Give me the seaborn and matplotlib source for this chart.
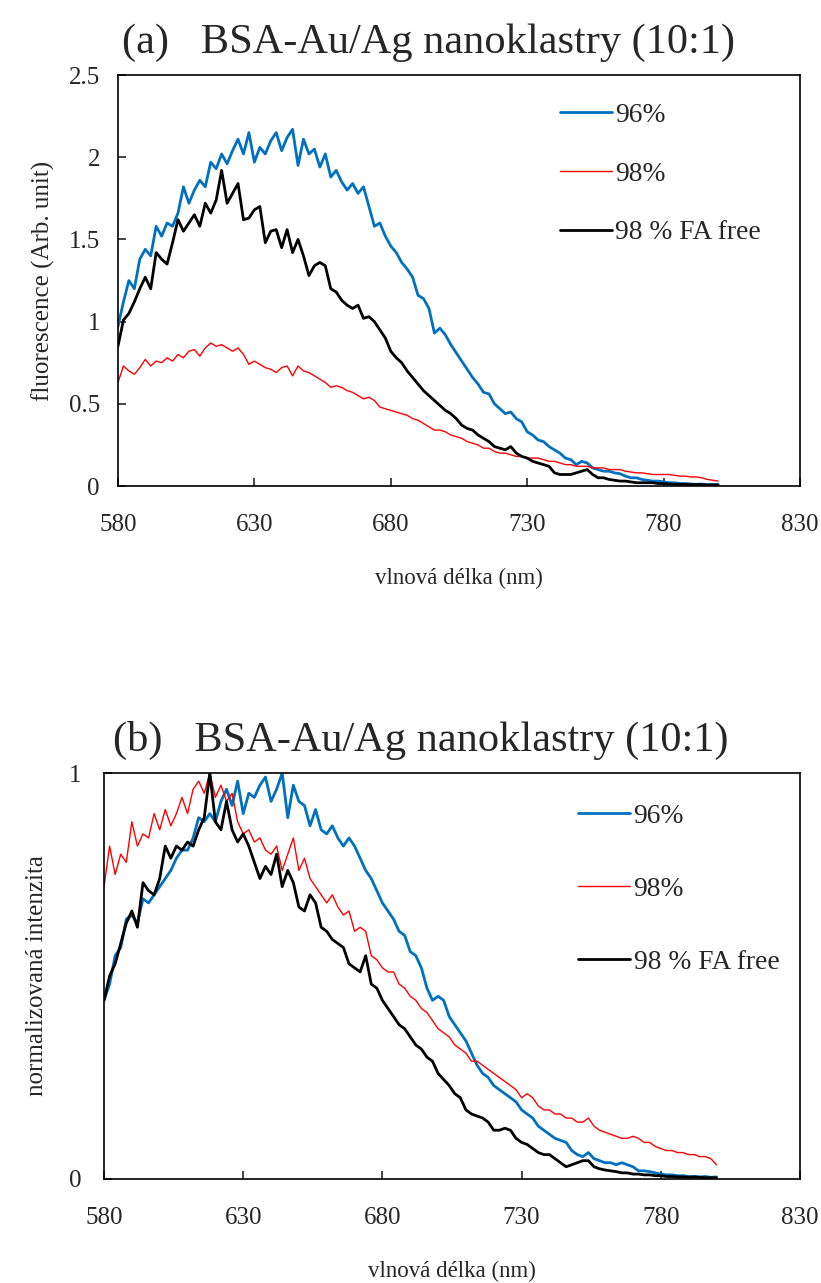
import numpy as np
import pandas as pd
import matplotlib
matplotlib.use("Agg")
import matplotlib.pyplot as plt
from matplotlib.ticker import FuncFormatter
import seaborn as sns

# wavelength grid (nm), 2 nm step
wavelength = np.arange(580, 801, 2)

# (a) raw fluorescence, Arb. unit
fl_96 = [0.97, 1.12, 1.25, 1.20, 1.38, 1.44, 1.40, 1.58, 1.52, 1.60,
         1.58, 1.66, 1.82, 1.72, 1.80, 1.86, 1.82, 1.97, 1.93, 2.02,
         1.96, 2.04, 2.11, 2.02, 2.15, 1.97, 2.06, 2.02, 2.10, 2.15,
         2.04, 2.12, 2.17, 1.95, 2.11, 2.02, 2.05, 1.94, 2.02, 1.88,
         1.92, 1.85, 1.80, 1.84, 1.78, 1.82, 1.70, 1.58, 1.60, 1.52,
         1.46, 1.42, 1.36, 1.32, 1.27, 1.16, 1.14, 1.08, 0.93, 0.96,
         0.92, 0.86, 0.81, 0.76, 0.71, 0.66, 0.62, 0.57, 0.56, 0.50,
         0.47, 0.44, 0.45, 0.41, 0.39, 0.33, 0.31, 0.28, 0.27, 0.24,
         0.22, 0.20, 0.17, 0.16, 0.13, 0.15, 0.14, 0.11, 0.10, 0.09,
         0.09, 0.08, 0.075, 0.06, 0.05, 0.05, 0.04, 0.035, 0.03, 0.03,
         0.025, 0.02, 0.02, 0.015, 0.015, 0.012, 0.01, 0.012, 0.008, 0.01,
         0.01]
fl_98 = [0.63, 0.73, 0.70, 0.68, 0.72, 0.77, 0.73, 0.76, 0.75, 0.78,
         0.76, 0.80, 0.78, 0.82, 0.83, 0.79, 0.84, 0.87, 0.85, 0.86,
         0.84, 0.82, 0.84, 0.80, 0.74, 0.76, 0.74, 0.72, 0.71, 0.69,
         0.72, 0.73, 0.67, 0.73, 0.70, 0.69, 0.67, 0.65, 0.63, 0.60,
         0.61, 0.60, 0.58, 0.57, 0.55, 0.53, 0.54, 0.52, 0.48, 0.47,
         0.46, 0.45, 0.44, 0.43, 0.41, 0.40, 0.38, 0.36, 0.34, 0.34,
         0.33, 0.31, 0.30, 0.29, 0.27, 0.26, 0.25, 0.23, 0.23, 0.21,
         0.20, 0.20, 0.19, 0.18, 0.18, 0.17, 0.17, 0.17, 0.16, 0.15,
         0.15, 0.14, 0.13, 0.13, 0.12, 0.12, 0.12, 0.11, 0.11, 0.11,
         0.10, 0.10, 0.10, 0.09, 0.085, 0.08, 0.08, 0.075, 0.07, 0.07,
         0.07, 0.07, 0.065, 0.06, 0.06, 0.055, 0.055, 0.05, 0.04, 0.035,
         0.03]
fl_98_fa = [0.85, 1.01, 1.05, 1.12, 1.20, 1.27, 1.20, 1.42, 1.38, 1.35,
            1.48, 1.62, 1.55, 1.60, 1.65, 1.58, 1.72, 1.66, 1.74, 1.92,
            1.72, 1.78, 1.84, 1.62, 1.63, 1.68, 1.70, 1.48, 1.55, 1.56,
            1.45, 1.56, 1.42, 1.50, 1.40, 1.28, 1.34, 1.36, 1.34, 1.20,
            1.18, 1.13, 1.10, 1.08, 1.10, 1.02, 1.03, 1.00, 0.95, 0.90,
            0.82, 0.78, 0.75, 0.70, 0.66, 0.62, 0.58, 0.55, 0.52, 0.49,
            0.46, 0.44, 0.41, 0.37, 0.35, 0.34, 0.31, 0.29, 0.27, 0.24,
            0.23, 0.22, 0.24, 0.20, 0.18, 0.17, 0.15, 0.14, 0.13, 0.12,
            0.08, 0.07, 0.07, 0.07, 0.08, 0.09, 0.10, 0.07, 0.05, 0.05,
            0.04, 0.035, 0.03, 0.03, 0.025, 0.02, 0.02, 0.02, 0.02, 0.015,
            0.015, 0.012, 0.01, 0.01, 0.01, 0.008, 0.01, 0.008, 0.006, 0.006,
            0.005]

# (b) normalised intensity
norm_96 = [0.44, 0.48, 0.55, 0.57, 0.64, 0.65, 0.63, 0.69, 0.68, 0.70,
           0.72, 0.74, 0.76, 0.79, 0.81, 0.81, 0.84, 0.89, 0.88, 0.90,
           0.88, 0.93, 0.96, 0.92, 0.98, 0.90, 0.95, 0.94, 0.97, 0.99,
           0.93, 0.96, 1.00, 0.89, 0.97, 0.93, 0.92, 0.87, 0.91, 0.86,
           0.85, 0.87, 0.84, 0.82, 0.84, 0.82, 0.79, 0.76, 0.74, 0.71,
           0.68, 0.66, 0.64, 0.61, 0.60, 0.56, 0.55, 0.52, 0.47, 0.44,
           0.45, 0.44, 0.40, 0.38, 0.36, 0.34, 0.31, 0.28, 0.26, 0.25,
           0.23, 0.22, 0.21, 0.20, 0.19, 0.17, 0.16, 0.15, 0.13, 0.12,
           0.11, 0.10, 0.095, 0.09, 0.07, 0.06, 0.055, 0.065, 0.05, 0.045,
           0.04, 0.04, 0.035, 0.04, 0.035, 0.03, 0.02, 0.02, 0.018, 0.015,
           0.012, 0.01, 0.01, 0.008, 0.008, 0.006, 0.006, 0.005, 0.006, 0.004,
           0.005]
norm_98 = [0.72, 0.82, 0.75, 0.80, 0.78, 0.88, 0.82, 0.85, 0.84, 0.90,
           0.86, 0.91, 0.87, 0.90, 0.94, 0.90, 0.96, 0.98, 0.95, 1.00,
           0.94, 0.97, 0.93, 0.95, 0.88, 0.85, 0.86, 0.83, 0.84, 0.81,
           0.80, 0.82, 0.76, 0.80, 0.84, 0.76, 0.79, 0.74, 0.72, 0.70,
           0.68, 0.70, 0.67, 0.65, 0.66, 0.61, 0.62, 0.61, 0.55, 0.54,
           0.52, 0.51, 0.51, 0.48, 0.47, 0.45, 0.44, 0.42, 0.41, 0.39,
           0.37, 0.36, 0.35, 0.33, 0.32, 0.31, 0.29, 0.29, 0.28, 0.27,
           0.26, 0.25, 0.24, 0.23, 0.22, 0.20, 0.21, 0.20, 0.18, 0.17,
           0.17, 0.16, 0.16, 0.15, 0.15, 0.14, 0.14, 0.15, 0.13, 0.12,
           0.115, 0.11, 0.105, 0.10, 0.10, 0.105, 0.10, 0.09, 0.09, 0.08,
           0.075, 0.07, 0.07, 0.065, 0.065, 0.06, 0.06, 0.055, 0.055, 0.05,
           0.035]
norm_98_fa = [0.44, 0.50, 0.53, 0.58, 0.63, 0.66, 0.62, 0.73, 0.71, 0.70,
              0.74, 0.82, 0.79, 0.82, 0.81, 0.83, 0.82, 0.86, 0.89, 1.00,
              0.88, 0.86, 0.93, 0.86, 0.83, 0.85, 0.82, 0.78, 0.74, 0.77,
              0.75, 0.80, 0.72, 0.76, 0.73, 0.67, 0.66, 0.70, 0.68, 0.62,
              0.61, 0.59, 0.58, 0.57, 0.53, 0.52, 0.51, 0.55, 0.48, 0.47,
              0.44, 0.42, 0.40, 0.38, 0.37, 0.35, 0.33, 0.32, 0.30, 0.29,
              0.26, 0.245, 0.23, 0.21, 0.20, 0.17, 0.16, 0.155, 0.15, 0.14,
              0.12, 0.12, 0.125, 0.12, 0.10, 0.09, 0.085, 0.075, 0.065, 0.06,
              0.06, 0.05, 0.04, 0.03, 0.035, 0.04, 0.045, 0.045, 0.03, 0.025,
              0.022, 0.02, 0.018, 0.015, 0.015, 0.012, 0.012, 0.01, 0.01, 0.008,
              0.008, 0.006, 0.006, 0.005, 0.005, 0.004, 0.005, 0.004, 0.003, 0.003,
              0.003]

labels = ["96%", "98%", "98 % FA free"]
colors = ["#0070C0", "#FF0000", "#000000"]
widths = [2.0, 1.0, 2.0]

sns.set_style("white")
plt.rcParams['font.family'] = ['Liberation Serif', 'DejaVu Serif']

fig = plt.figure(figsize=(8.21, 12.83), dpi=100)
ax_a = fig.add_axes([0.1437, 0.6212, 0.8307, 0.3203])
ax_b = fig.add_axes([0.1267, 0.0811, 0.8477, 0.3164])


def draw_panel(ax, series, title, ylabel, yticks, ylim, ypad, ylabpad, leg_anchor, leg_spacing):
    for vals, lab, col, lw in zip(series, labels, colors, widths):
        df = pd.DataFrame({"wl": wavelength, "val": vals})
        sns.lineplot(data=df, x="wl", y="val", ax=ax, color=col, lw=lw, label=lab)
    ax.set_xlim(580, 830)
    ax.set_ylim(*ylim)
    ax.set_xticks([580, 630, 680, 730, 780, 830])
    ax.set_yticks(yticks)
    ax.yaxis.set_major_formatter(FuncFormatter(lambda v, p: f"{v:g}"))
    ax.tick_params(axis='x', direction='in', length=6, width=1.2, labelsize=18, pad=20, bottom=True)
    ax.tick_params(axis='y', direction='in', length=6, width=1.2, labelsize=18, pad=ypad, left=True)
    for s in ax.spines.values():
        s.set_linewidth(1.2)
        s.set_color('black')
    ax.set_title(title, fontsize=30.5, x=0.455, pad=16)
    ax.set_xlabel("vlnová délka (nm)", fontsize=16.5, labelpad=23)
    ax.set_ylabel(ylabel, fontsize=18, labelpad=ylabpad)
    ax.legend(loc='upper left', bbox_to_anchor=leg_anchor, frameon=False, fontsize=19.8,
              handlelength=1.9, handletextpad=0.12, labelspacing=leg_spacing,
              borderpad=0, borderaxespad=0)


draw_panel(ax_a, [fl_96, fl_98, fl_98_fa], "(a)   BSA-Au/Ag nanoklastry (10:1)",
           "fluorescence (Arb. unit)", [0, 0.5, 1, 1.5, 2, 2.5], (0, 2.5), 13, 9.5,
           (0.648, 0.933), 1.22)
draw_panel(ax_b, [norm_96, norm_98, norm_98_fa], "(b)   BSA-Au/Ag nanoklastry (10:1)",
           "normalizovaná intenzita", [0, 1], (0, 1), 16, 15,
           (0.681, 0.925), 1.74)

fig.savefig("out.png", dpi=100)
plt.close(fig)
